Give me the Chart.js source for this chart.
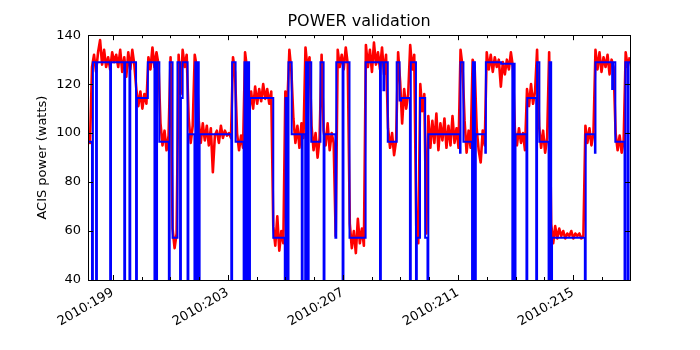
<!DOCTYPE html>
<html>
<head>
<meta charset="utf-8">
<script src="https://cdn.jsdelivr.net/npm/chart.js@4/dist/chart.umd.min.js"></script>
<style>
  body { margin: 0; background: #fff; }
</style>
</head>
<body>
<canvas id="grafica" width="700" height="350"></canvas>
<script>
// telemetria ACIS: una lectura cada 0.07 dia desde 2010:198.14
var diaInicioTelemetria = 198.14;
var pasoTelemetria = 0.07;
var potenciaTelemetria = [
    97, 96,
    127, 132, 125, 133, 138, 128, 134, 127, 131, 126, 133, 129, 132, 127, 134, 125, 131, 123, 133, 126, 134, 128,
    118, 111, 117, 110, 116, 112,
    131, 126, 135, 127, 133, 128,
    104, 95, 101, 93, 99,
    131,
    61, 53, 59,
    132,
    116,
    134, 127, 132,
    106, 96, 103,
    132, 127,
    105, 96, 104, 97, 103, 95, 102, 84, 99, 101, 96, 103, 98, 101, 99, 100, 98,
    131, 125,
    100, 93, 99, 94,
    133, 126,
    108, 117, 110, 119, 112, 118, 113, 120, 114, 118, 112, 117,
    62, 54, 66, 52, 60, 55,
    117, 112,
    134, 125,
    106, 96, 103, 94, 104, 98,
    135, 126, 131,
    103, 93, 100, 90, 98,
    132,
    101, 95, 104, 93, 100, 96, 58,
    134, 127, 132, 126, 135, 128,
    63, 53, 60, 51, 65, 55, 61, 54,
    136, 127, 134, 125, 137, 128, 133, 126, 135, 124, 132,
    102, 94, 100, 91, 97,
    133,
    121, 104, 118, 110, 116,
    136, 126, 132,
    62, 55,
    120, 109, 116,
    59,
    107, 94, 105, 96, 108, 93, 104, 97, 106, 94, 103, 95, 107, 96, 102, 94,
    134, 127,
    105, 92, 101, 94,
    130, 127,
    102, 93, 88, 101, 95,
    133, 126, 132, 125, 131, 127, 130, 119, 129, 124, 130, 126, 133, 127,
    101, 95, 102, 96, 100, 93,
    118, 111, 120, 112, 117,
    134,
    103, 94, 101, 92, 98,
    133,
    63, 55, 62, 57, 61, 58, 60, 57, 59, 58, 60, 57, 59, 58, 59, 57, 58,
    103, 96, 102, 95, 100,
    134, 126, 133, 125, 131, 127, 132, 124, 130, 127,
    100, 93, 99, 92, 97,
    133, 127, 131
];

// modelo: cada valor rige desde su dia hasta el siguiente
var diaModelo = [
    198.14, 198.28, 198.31, 198.42, 198.45, 198.91, 198.94, 199.40, 199.43, 199.58,
    199.61, 199.81, 199.84, 200.22, 200.45, 200.48, 200.51, 200.54, 200.62, 200.95,
    200.98, 201.08, 201.25, 201.34, 201.37, 201.43, 201.60, 201.63, 201.84, 201.87,
    201.92, 201.95, 201.99, 202.02, 203.12, 203.15, 203.27, 203.55, 203.58, 203.64,
    203.67, 203.74, 203.77, 204.58, 204.98, 205.01, 205.08, 205.11, 205.22, 205.57,
    205.60, 205.69, 205.72, 205.78, 205.81, 205.90, 206.22, 206.33, 206.36, 206.74,
    206.77, 206.99, 207.02, 207.23, 207.79, 208.29, 208.32, 208.41, 208.44, 208.56,
    208.87, 208.97, 209.02, 209.33, 209.36, 209.54, 209.57, 209.68, 209.86, 209.94,
    209.97, 211.07, 211.09, 211.19, 211.49, 211.52, 211.59, 211.62, 211.95, 211.97,
    212.50, 212.89, 212.92, 212.97, 213.00, 213.38, 213.41, 213.72, 213.75, 213.83,
    214.15, 214.18, 214.24, 214.27, 215.41, 215.44, 215.76, 215.78, 216.36, 216.39,
    216.47, 216.79, 216.82, 216.90, 216.93, 216.98
];
var potenciaModelo = [
    96.5, 0, 129, 0, 129, 0, 129, 0, 129, 0,
    129, 0, 114.3, 129, 0, 129, 0, 129, 96.5, 0,
    129, 57.3, 129, 0, 114.3, 129, 0, 99.5, 0, 129,
    0, 129, 0, 99.5, 0, 129, 96.5, 0, 129, 0,
    129, 0, 114.3, 57.3, 0, 114.3, 0, 129, 99.5, 0,
    99.5, 0, 129, 0, 129, 96.5, 129, 0, 99.5, 57.3,
    129, 0, 129, 57.3, 129, 0, 129, 117.5, 129, 96.5,
    129, 113.3, 114.3, 0, 129, 0, 57.3, 114.3, 57.3, 0,
    99.5, 92, 129, 96.5, 0, 129, 0, 99.5, 92, 129,
    128.3, 0, 128.3, 0, 99.5, 0, 114.3, 0, 129, 96.5,
    0, 129, 0, 57.3, 0, 99.5, 92, 129, 118, 129,
    96.5, 0, 129, 0, 129, 129
];

var diasTicks = [199, 200, 201, 202, 203, 204, 205, 206, 207, 208, 209, 210, 211, 212, 213, 214, 215, 216];
var diasEtiqueta = [199, 203, 207, 211, 215];

var puntosTelemetria = potenciaTelemetria.map(function(p, i){
    return {x: diaInicioTelemetria + i * pasoTelemetria, y: p};
});
var puntosModelo = diaModelo.map(function(d, i){
    return {x: d, y: potenciaModelo[i]};
});

var fuente = {family: 'DejaVu Sans', size: 13};

// marco y marcas hacia adentro, estilo matplotlib
var marcoEjes = {
    id: 'marcoEjes',
    afterDatasetsDraw(chart){
        var ctx = chart.ctx;
        var a = chart.chartArea;
        var x = chart.scales.x;
        var y = chart.scales.y;
        ctx.save();
        ctx.strokeStyle = '#000';
        ctx.lineWidth = 1;
        ctx.beginPath();
        x.ticks.forEach(function(t){
            var px = Math.round(x.getPixelForValue(t.value)) + 0.5;
            var largo = diasEtiqueta.includes(t.value) ? 5 : 3;
            ctx.moveTo(px, a.bottom); ctx.lineTo(px, a.bottom - largo);
            ctx.moveTo(px, a.top); ctx.lineTo(px, a.top + largo);
        });
        y.ticks.forEach(function(t){
            var py = Math.round(y.getPixelForValue(t.value)) + 0.5;
            ctx.moveTo(a.left, py); ctx.lineTo(a.left + 5, py);
            ctx.moveTo(a.right, py); ctx.lineTo(a.right - 5, py);
        });
        ctx.stroke();
        ctx.strokeRect(Math.round(a.left) + 0.5, Math.round(a.top) + 0.5,
                       Math.round(a.right) - Math.round(a.left), Math.round(a.bottom) - Math.round(a.top));
        ctx.restore();
    }
};

var ctx = document.getElementById('grafica').getContext('2d');

var grafica = new Chart(ctx, {
    type: 'line',
    data: {
        datasets: [{
            label: 'Modelo',
            data: puntosModelo,
            borderColor: '#0000ff',
            borderWidth: 2,
            pointRadius: 0,
            stepped: true,
            fill: false
        }, {
            label: 'Telemetria',
            data: puntosTelemetria,
            borderColor: '#ff0000',
            borderWidth: 2.6,
            borderJoinStyle: 'round',
            pointRadius: 0,
            fill: false
        }]
    },
    options: {
        responsive: false,
        animation: false,
        devicePixelRatio: 1,
        layout: {padding: {left: 0, right: 70, top: 0, bottom: 0}},
        plugins: {
            legend: {display: false},
            tooltip: {enabled: false},
            title: {
                display: true,
                text: 'POWER validation',
                fullSize: false,
                color: '#000',
                font: {family: 'DejaVu Sans', size: 16, weight: 'normal'},
                padding: {top: 12, bottom: 4}
            }
        },
        scales: {
            x: {
                type: 'linear',
                min: 198.14,
                max: 216.98,
                grid: {display: false, drawTicks: false},
                border: {display: false},
                afterBuildTicks: function(s){ s.ticks = diasTicks.map(function(v){ return {value: v}; }); },
                afterFit: function(s){ s.height = 70; },
                ticks: {
                    autoSkip: false,
                    minRotation: 30,
                    maxRotation: 30,
                    padding: 5,
                    color: '#000',
                    font: fuente,
                    callback: function(v){ return diasEtiqueta.includes(v) ? `2010:${v}` : ''; }
                }
            },
            y: {
                min: 40,
                max: 140,
                grid: {display: false, drawTicks: false},
                border: {display: false},
                afterFit: function(s){ s.width = 88; },
                ticks: {stepSize: 20, padding: 7, color: '#000', font: fuente},
                title: {
                    display: true,
                    text: 'ACIS power (watts)',
                    color: '#000',
                    font: fuente,
                    padding: {top: 35, bottom: 0}
                }
            }
        }
    },
    plugins: [marcoEjes]
});
</script>
</body>
</html>
